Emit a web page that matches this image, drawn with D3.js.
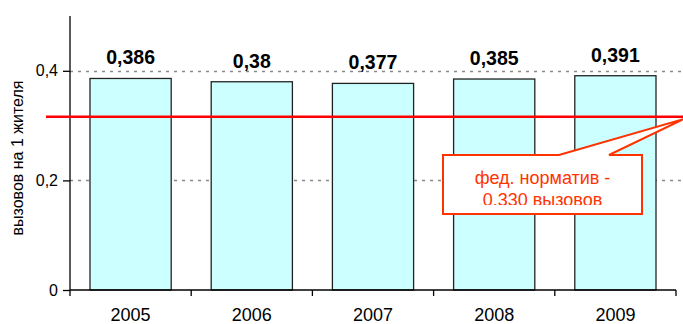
<!DOCTYPE html>
<html><head><meta charset="utf-8">
<script src="https://cdn.jsdelivr.net/npm/d3@7"></script>
<style>body{margin:0;background:#fff;}svg{display:block;font-family:"Liberation Sans",Arial,sans-serif;}</style>
</head><body><svg id="c" width="683" height="324"></svg>
<script>
const years = ["2005","2006","2007","2008","2009"];
const values = [0.386, 0.38, 0.377, 0.385, 0.391];
const valueLabels = ["0,386","0,38","0,377","0,385","0,391"];
const yTicks = [0, 0.2, 0.4];
const yTickLabels = ["0","0,2","0,4"];
const normValue = 0.316;
const calloutLines = ["фед. норматив -","0.330 вызовов"];
const yTitle = "вызовов на 1 жителя";

const svg = d3.select("#c");
const L = 70, R = 676, T = 16, B = 290;
const x = d3.scaleBand().domain(years).range([L, R]).paddingInner(0.33).paddingOuter(0.165);
const y = d3.scaleLinear().domain([0, 0.5]).range([B, T]);

// gridlines
svg.append("g").selectAll("line").data(yTicks.filter(d => d > 0)).join("line")
  .attr("x1", L).attr("x2", 683).attr("y1", d => Math.round(y(d)) + 0.5).attr("y2", d => Math.round(y(d)) + 0.5)
  .attr("stroke", "#888").attr("stroke-width", 1.3).attr("stroke-dasharray", "3,5");

// bars
svg.append("g").selectAll("rect").data(years).join("rect")
  .attr("x", d => x(d)).attr("width", x.bandwidth())
  .attr("y", (d, i) => y(values[i])).attr("height", (d, i) => B - y(values[i]))
  .attr("fill", "#CCFFFF").attr("stroke", "#222").attr("stroke-width", 1.3);

// value labels
svg.append("g").selectAll("text").data(years).join("text")
  .attr("x", d => x(d) + x.bandwidth() / 2).attr("y", (d, i) => y(values[i]) - 14)
  .attr("text-anchor", "middle").attr("font-size", 19.5).attr("font-weight", "bold").attr("fill", "#000")
  .text((d, i) => valueLabels[i]);

// y axis
const yAxis = d3.axisLeft(y).tickValues(yTicks).tickFormat((d, i) => yTickLabels[i]).tickSize(7).tickPadding(5);
const gy = svg.append("g").attr("transform", `translate(${L},0)`).call(yAxis);
gy.select(".domain").remove();
gy.append("line").attr("x1", 0).attr("x2", 0).attr("y1", T).attr("y2", B).attr("stroke", "#000").attr("stroke-width", 1.3);
gy.selectAll(".tick line").attr("stroke", "#000").attr("stroke-width", 1.3);
gy.selectAll(".tick text").attr("font-size", 16).attr("fill", "#000").attr("font-family", "Liberation Sans, Arial, sans-serif");

// x axis
const bounds = d3.range(years.length + 1).map(i => L + i * (R - L) / years.length);
const gx = svg.append("g");
gx.append("line").attr("x1", L).attr("x2", R).attr("y1", B).attr("y2", B).attr("stroke", "#000").attr("stroke-width", 1.3);
gx.selectAll("line.t").data(bounds).join("line").attr("class", "t")
  .attr("x1", d => d).attr("x2", d => d).attr("y1", B).attr("y2", B + 6).attr("stroke", "#000").attr("stroke-width", 1.3);
gx.selectAll("text").data(years).join("text")
  .attr("x", d => x(d) + x.bandwidth() / 2).attr("y", 321)
  .attr("text-anchor", "middle").attr("font-size", 18).attr("fill", "#000").text(d => d);

// y title
svg.append("text").attr("transform", "translate(23,158) rotate(-90)")
  .attr("text-anchor", "middle").attr("font-size", 16).attr("fill", "#000").text(yTitle);

// norm line
svg.append("line").attr("x1", 46).attr("x2", 683).attr("y1", y(normValue)).attr("y2", y(normValue))
  .attr("stroke", "#FF0000").attr("stroke-width", 2.5);

// callout
const red = "#FF3300";
const bx = 443, by = 155, bw = 199, bh = 59;
svg.append("path")
  .attr("d", `M${bx},${by} L559,${by} L684,119 L609,${by} L${bx + bw},${by} L${bx + bw},${by + bh} L${bx},${by + bh} Z`)
  .attr("fill", "#fff").attr("stroke", red).attr("stroke-width", 2).attr("stroke-linejoin", "miter");
svg.append("clipPath").attr("id", "cc").append("rect").attr("x", bx).attr("y", by).attr("width", bw).attr("height", 50);
svg.append("g").attr("clip-path", "url(#cc)").selectAll("text").data(calloutLines).join("text")
  .attr("x", bx + bw / 2).attr("y", (d, i) => 184 + i * 22)
  .attr("text-anchor", "middle").attr("font-size", 18).attr("fill", red).text(d => d);
</script></body></html>
